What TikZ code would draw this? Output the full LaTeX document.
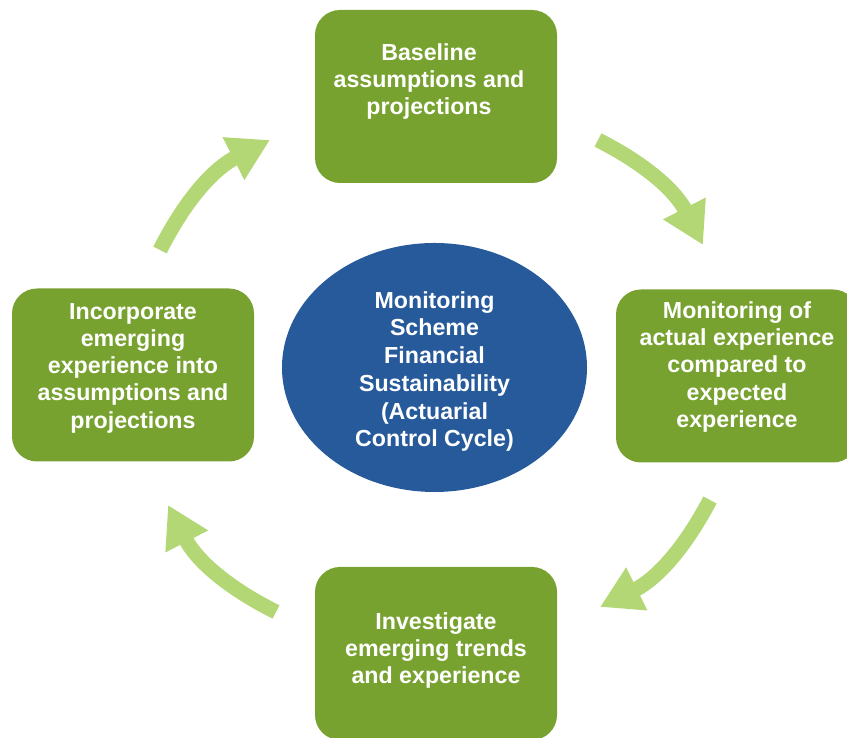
\documentclass[tikz,border=0pt]{standalone}
\usepackage{fontspec}
\setmainfont{Liberation Sans}
\usepackage{xcolor}
\usepackage{tikz}
\usetikzlibrary{shapes.geometric,arrows.meta,positioning,calc}
\definecolor{ccgreen}{HTML}{78A22F}
\definecolor{ccblue}{HTML}{275A9B}
\definecolor{cclight}{HTML}{B3D775}

\begin{document}
\begin{tikzpicture}[line cap=butt,
  stepbox/.style={fill=ccgreen,rounded corners=0.5cm,minimum width=4.84cm,minimum height=3.46cm},
  steptext/.style={text=white,align=center,font=\fontsize{13.2}{15.5}\selectfont\bfseries},
  hub/.style={ellipse,fill=ccblue,minimum width=6.1cm,minimum height=4.98cm,inner sep=0pt},
  cyclearrow/.style={cclight,line width=0.3cm,-{Triangle[length=0.82cm,width=0.9cm]}}]
\useasboundingbox (0,0) rectangle (16.94,14.76);
%% centre of the cycle
\node[hub] (hub) at (8.69,7.41) {};
\node[steptext,font=\fontsize{13.2}{15.8}\selectfont\bfseries] (hub-t) at ([yshift=-0.08cm]hub)
  {Monitoring\\Scheme\\Financial\\Sustainability\\(Actuarial\\Control Cycle)};
%% four steps
\node[stepbox] (base) at (8.72,12.83) {};
\node[stepbox] (monitor) at (14.74,7.24) {};
\node[stepbox] (investigate) at (8.72,1.69) {};
\node[stepbox] (incorporate) at (2.66,7.26) {};
%% step texts (not quite centred in the boxes)
\node[steptext] (base-t) at ([xshift=-0.14cm,yshift=0.30cm]base) {Baseline\\assumptions and\\projections};
\node[steptext] (monitor-t) at ([yshift=0.18cm]monitor) {Monitoring of\\actual experience\\compared to\\expected\\experience};
\node[steptext] (investigate-t) at ([yshift=0.06cm]investigate) {Investigate\\emerging trends\\and experience};
\node[steptext] (incorporate-t) at ([yshift=0.14cm]incorporate) {Incorporate\\emerging\\experience into\\assumptions and\\projections};
%% arrow ends
\coordinate (a1s) at (11.96,11.96);
\coordinate (a1e) at (14.06,9.86);
\coordinate (a2s) at (14.20,4.76);
\coordinate (a2e) at (12.00,2.62);
\coordinate (a3s) at (5.52,2.52);
\coordinate (a3e) at (3.36,4.66);
\coordinate (a4s) at (3.20,9.76);
\coordinate (a4e) at (5.40,11.96);
%% cycle arrows
\foreach \s/\e in {a1s/a1e,a2s/a2e,a3s/a3e,a4s/a4e}
  \draw[cyclearrow] (\s) to[bend left=18] (\e);
\end{tikzpicture}
\end{document}
